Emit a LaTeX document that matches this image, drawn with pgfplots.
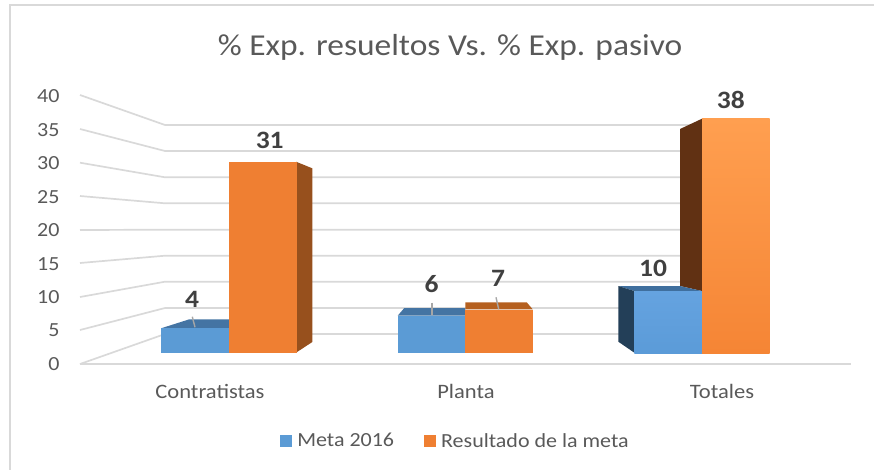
\documentclass[border=0pt]{standalone}
\usepackage{pgfplots}
\pgfplotsset{compat=1.18}
\usepackage{fontspec}
\setmainfont[FakeStretch=1.1]{Carlito}
\definecolor{gridc}{HTML}{D9D9D9}
\definecolor{txt}{HTML}{595959}
\definecolor{lab}{HTML}{404040}
\definecolor{bl}{HTML}{5B9BD5}
\definecolor{blt}{HTML}{4474A3}
\definecolor{bld}{HTML}{233F58}
\definecolor{bltt}{HTML}{3F6F9E}
\definecolor{bltop}{HTML}{65A3E0}
\definecolor{blbot}{HTML}{5B9BD8}
\definecolor{or}{HTML}{EF7F32}
\definecolor{ord}{HTML}{97501D}
\definecolor{ort}{HTML}{B5601F}
\definecolor{brn}{HTML}{613113}
\definecolor{ortop}{HTML}{FF9F50}
\definecolor{orbot}{HTML}{F58535}
\pgfplotsset{
  frameaxis/.style={at={(80pt,-364pt)},anchor=south west,scale only axis,width=771pt,height=269pt,xmin=80,xmax=851,clip=false},
  wall/.style={draw=gridc,line width=1.7pt,no markers,forget plot},
  face/.style={draw=none,no markers,forget plot},
  lead/.style={draw=black!35,line width=1.4pt,no markers,forget plot},
}
% one bar with its label; #1 style, #2 x, #3 value, #4 dx, #5 dy of the label
\newcommand{\onebar}[5]{\addplot[ybar,bar width=67.6,bar shift=0pt,draw=none,#1,
  nodes near coords,nodes near coords style={anchor=center,xshift=#4pt,yshift=#5pt,font=\fontsize{25}{25}\selectfont\bfseries,text=lab}]
  coordinates {(#2,#3)};}
\begin{document}
\begin{tikzpicture}
\path[use as bounding box] (0,0) rectangle (874pt,-470pt);
\draw[gridc,line width=2pt] (10pt,-470pt) -- (10pt,-5pt) -- (874pt,-5pt);
% tick labels, title, categories
\begin{axis}[frameaxis,height=267.5pt,ymin=0,ymax=40,axis line style={draw=none},tick style={draw=none},
  ytick={0,5,...,40},xtick={210,466,722},xticklabels={Contratistas,Planta,Totales},
  /pgf/number format/assume math mode=true,
  yticklabel style={anchor=east,xshift=-17pt,font=\fontsize{20}{20}\selectfont,text=txt},
  xticklabel style={anchor=center,yshift=-27pt,font=\fontsize{20.5}{20.5}\selectfont,text=txt},
  title={\% Exp. resueltos Vs. \% Exp. pasivo},
  title style={at={(0.4800,1.16)},anchor=center,font=\fontsize{30.4}{30.4}\selectfont,text=txt}]
\end{axis}
% walls and 3D faces, in picture coordinates
\begin{axis}[frameaxis,ymin=95,ymax=364,y dir=reverse,hide axis]
\addplot[wall] coordinates {(80,364)(851,364)};
\addplot[wall] coordinates {(80,95)(165,125)(690,125)};
\addplot[wall] coordinates {(80,129)(165,151)(690,151)};
\addplot[wall] coordinates {(80,162.7)(165,177.3)(690,177.3)};
\addplot[wall] coordinates {(80,196)(165,203.3)(690,203.3)};
\addplot[wall] coordinates {(80,230)(165,229.7)(690,229.7)};
\addplot[wall] coordinates {(80,263)(165,255.7)(690,255.7)};
\addplot[wall] coordinates {(80,297)(165,281.7)(690,281.7)};
\addplot[wall] coordinates {(80,330)(165,308)(690,308)};
\addplot[wall] coordinates {(80,364)(165,334)(690,334)};
\addplot[face,fill=blt] coordinates {(161,328.3)(189.3,319.3)(229,319.3)(229,328.3)} --cycle;
\addplot[face,fill=ord] coordinates {(296,161.7)(312.3,168.3)(312.3,342)(296,352.7)} --cycle;
\addplot[face,fill=blt] coordinates {(397.7,315.7)(404.3,308)(465.3,308)(465.3,315.7)} --cycle;
\addplot[face,fill=ort] coordinates {(465.3,302.3)(526.7,302.3)(532.7,309.3)(465.3,309.3)} --cycle;
\addplot[face,fill=brn] coordinates {(680,129)(702,118.7)(702,291)(680,286)} --cycle;
\addplot[face,fill=bltt] coordinates {(618.3,286)(680,286)(702,291)(634.3,291)} --cycle;
\addplot[face,fill=bld] coordinates {(618.3,286)(634.3,291)(634.3,352.7)(618.3,341.7)} --cycle;
\addplot[lead] coordinates {(192.3,316.7)(195,327.3)};
\addplot[lead] coordinates {(432,302.7)(432,315)};
\addplot[lead] coordinates {(496,297.3)(498.7,309.3)};
\end{axis}
% bars: value 0 sits at picture row 353, one unit is 6.17 rows
\begin{axis}[frameaxis,ymin=-1.783,ymax=41.815,hide axis,
  /pgf/number format/assume math mode=true,
  legend style={at={(0.487,-0.286)},anchor=center,draw=none,fill=none,legend columns=2,
    font=\fontsize{20}{20}\selectfont,text=txt,
    /tikz/every even column/.append style={column sep=28pt}},
  legend cell align=left,
  legend image code/.code={\fill[#1] (0pt,-6pt) rectangle (12pt,6pt);\path (15pt,0pt);}]
\onebar{fill=bl}{195}{4}{-3}{29}
\addlegendentry{Meta 2016}
\onebar{fill=or}{262.7}{31}{7}{21}
\addlegendentry{Resultado de la meta}
\onebar{fill=bl,forget plot}{431.5}{6}{0}{32}
\onebar{fill=or,forget plot}{499.1}{7}{-1}{31}
\onebar{top color=bltop,bottom color=blbot,forget plot}{668.1}{10}{-15}{23}
\onebar{top color=ortop,bottom color=orbot,forget plot}{735.8}{38}{-5}{19}
\end{axis}
\end{tikzpicture}
\end{document}
